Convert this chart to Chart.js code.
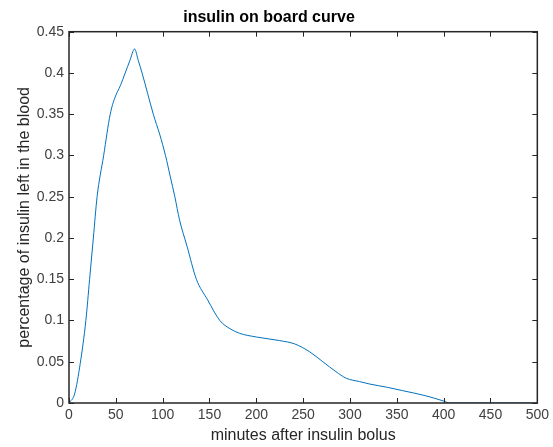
<!DOCTYPE html>
<html>
<head>
<meta charset="utf-8">
<script src="https://cdn.jsdelivr.net/npm/chart.js@4.4.0/dist/chart.umd.min.js"></script>
<style>
  html, body { margin: 0; padding: 0; background: #fff; }
  #wrap { width: 553px; height: 447px; }
</style>
</head>
<body>
<div id="wrap"><canvas id="c"></canvas></div>
<script>
// minutes after bolus
var minutes = [0, 6, 12, 18, 22, 26, 30, 37, 44, 49, 55, 60, 65, 70, 74, 78, 84, 90, 97, 103,
  108, 113, 118, 126, 136, 148, 161, 172, 182, 200, 225, 241, 257, 271, 285, 296, 310, 321,
  340, 356, 380, 401, 406, 450, 500];

// fraction of insulin left in the blood
var insulinLeft = [0, 0.011, 0.048, 0.10, 0.15, 0.20, 0.25, 0.30, 0.35, 0.37, 0.385, 0.40, 0.415,
  0.429, 0.415, 0.40, 0.375, 0.35, 0.325, 0.30, 0.275, 0.25, 0.222, 0.19, 0.15, 0.125, 0.10,
  0.09, 0.0845, 0.080, 0.0756, 0.0716, 0.062, 0.050, 0.038, 0.030, 0.026, 0.023, 0.019, 0.015,
  0.009, 0.002, 0, 0, 0];

var xTicks = [0, 50, 100, 150, 200, 250, 300, 350, 400, 450, 500];
var yTicks = [0, 0.05, 0.1, 0.15, 0.2, 0.25, 0.3, 0.35, 0.4, 0.45];

var points = minutes.map(function (m, i) { return { x: m, y: insulinLeft[i] }; });

// matlab style box with ticks pointing inward
var boxPlugin = {
  id: 'box',
  afterDraw: function (chart) {
    var ctx = chart.ctx, a = chart.chartArea;
    var xs = chart.scales.x, ys = chart.scales.y;
    var len = 5;
    ctx.save();
    ctx.strokeStyle = '#262626';
    ctx.lineWidth = 1;
    xTicks.forEach(function (t) {
      var px = Math.round(xs.getPixelForValue(t)) + 0.5;
      ctx.beginPath();
      ctx.moveTo(px, a.bottom); ctx.lineTo(px, a.bottom - len);
      ctx.moveTo(px, a.top); ctx.lineTo(px, a.top + len);
      ctx.stroke();
    });
    yTicks.forEach(function (t) {
      var py = Math.round(ys.getPixelForValue(t)) + 0.5;
      ctx.beginPath();
      ctx.moveTo(a.left, py); ctx.lineTo(a.left + len, py);
      ctx.moveTo(a.right, py); ctx.lineTo(a.right - len, py);
      ctx.stroke();
    });
    ctx.lineWidth = 1.5;
    ctx.strokeRect(a.left, a.top, a.right - a.left, a.bottom - a.top);
    ctx.restore();
  }
};

function fmt(v) {
  return String(+Number(v).toFixed(2));
}

var config = {
  type: 'line',
  data: {
    datasets: [{
      data: points,
      borderColor: '#0072BD',
      borderWidth: 1,
      pointRadius: 0,
      fill: false,
      cubicInterpolationMode: 'monotone'
    }]
  },
  options: {
    responsive: false,
    animation: false,
    layout: { padding: { left: 0, right: 15, top: 0, bottom: 0 } },
    plugins: {
      legend: { display: false },
      tooltip: { enabled: false },
      title: {
        display: true,
        text: 'insulin on board curve',
        color: '#000',
        font: { family: 'Liberation Sans', size: 16, weight: 'bold' },
        padding: { top: 8, bottom: 4.5 }
      }
    },
    scales: {
      x: {
        type: 'linear',
        min: 0,
        max: 500,
        grid: { display: false, drawTicks: false },
        border: { display: false },
        afterBuildTicks: function (s) { s.ticks = xTicks.map(function (v) { return { value: v }; }); },
        afterFit: function (s) { s.height = 44; },
        ticks: {
          color: '#404040',
          padding: 4,
          maxRotation: 0,
          font: { family: 'Liberation Sans', size: 14 },
          callback: fmt
        },
        title: {
          display: true,
          text: 'minutes after insulin bolus',
          color: '#262626',
          font: { family: 'Liberation Sans', size: 16 },
          padding: { top: 0, bottom: 2 }
        }
      },
      y: {
        min: 0,
        max: 0.45,
        grid: { display: false, drawTicks: false },
        border: { display: false },
        afterBuildTicks: function (s) { s.ticks = yTicks.map(function (v) { return { value: v }; }); },
        afterFit: function (s) { s.width = 69; },
        ticks: {
          color: '#404040',
          padding: 5,
          font: { family: 'Liberation Sans', size: 14 },
          callback: fmt
        },
        title: {
          display: true,
          text: 'percentage of insulin left in the blood',
          color: '#262626',
          font: { family: 'Liberation Sans', size: 16 },
          padding: { top: 15, bottom: 0 }
        }
      }
    }
  },
  plugins: [boxPlugin]
};

var canvas = document.getElementById('c');
canvas.width = 553;
canvas.height = 447;
new Chart(canvas, config);
</script>
</body>
</html>
